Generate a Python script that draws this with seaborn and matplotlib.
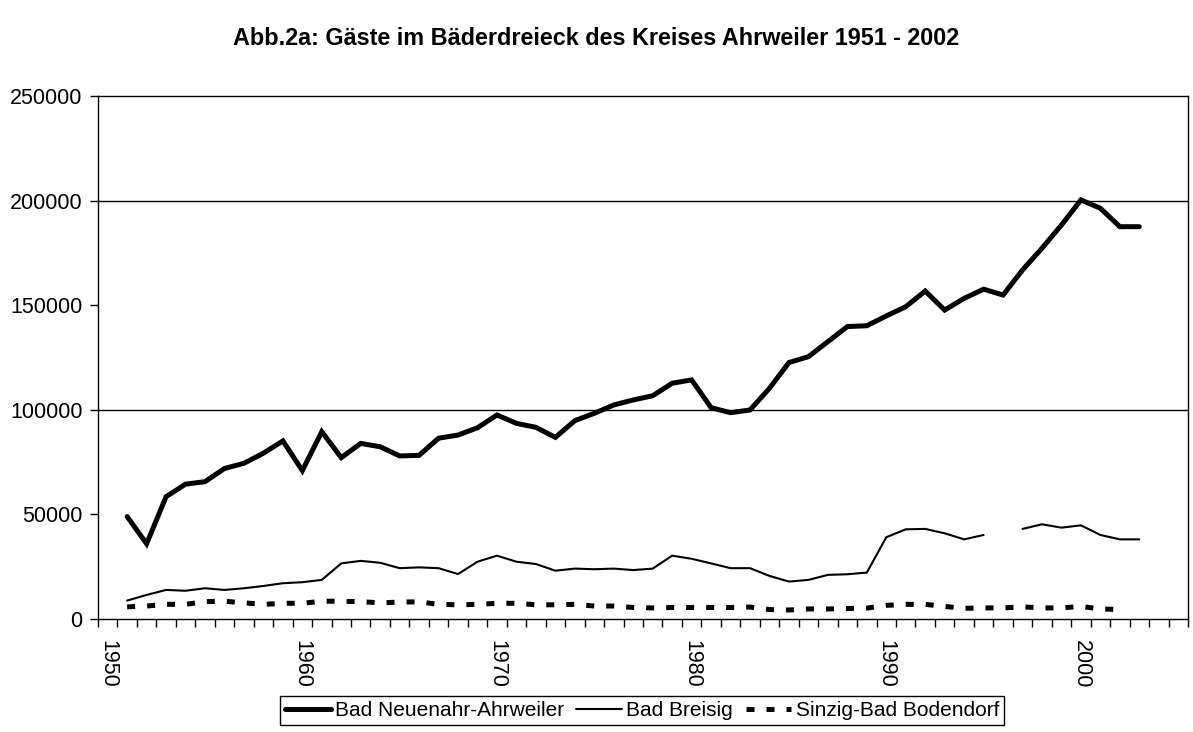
import numpy as np
import pandas as pd
import matplotlib
matplotlib.use("Agg")
import matplotlib.pyplot as plt
import seaborn as sns

# data (guests per year)
years = list(range(1951, 2004))
neuenahr = [49000, 36000, 58500, 64500, 65700, 72000, 74500, 79300, 85200, 71000,
            89600, 77200, 84000, 82400, 78000, 78300, 86500, 88000, 91500, 97600,
            93600, 91700, 86900, 94900, 98400, 102400, 104800, 106800, 112800, 114400,
            101100, 98700, 100000, 110400, 122700, 125500, 132700, 139900, 140300, 145000,
            149400, 156900, 147800, 153400, 157800, 155000, 167000, 177400, 188500, 200500,
            196500, 187700, 187700]
breisig = [8800, 11500, 13900, 13500, 14700, 13900, 14700, 15800, 17100, 17600,
           18700, 26600, 27800, 26900, 24300, 24700, 24300, 21500, 27400, 30300,
           27400, 26300, 23100, 24100, 23800, 24100, 23400, 24100, 30300, 28800,
           26600, 24300, 24300, 20600, 17900, 18700, 21100, 21400, 22200, 39100,
           42900, 43100, 41000, 38100, 40200, np.nan, 43100, 45300, 43700, 44800,
           40200, 38100, 38100]
sinzig = [5800, 6200, 7000, 7000, 8300, 8500, 7700, 7000, 7500, 7500,
          8500, 8500, 8300, 7700, 8100, 8200, 7000, 6800, 7000, 7500,
          7500, 6800, 6800, 7000, 6200, 6200, 5500, 5300, 5500, 5500,
          5500, 5500, 5700, 4500, 4300, 4800, 4800, 5000, 5200, 6500,
          7000, 7000, 6000, 5100, 5300, 5300, 5800, 5300, 5300, 6000,
          4800, 4500, np.nan]
names = ["Bad Neuenahr-Ahrweiler", "Bad Breisig", "Sinzig-Bad Bodendorf"]
label_years = [1950, 1960, 1970, 1980, 1990, 2000]
y_ticks = [0, 50000, 100000, 150000, 200000, 250000]

df = pd.DataFrame({"Jahr": years, names[0]: neuenahr, names[1]: breisig, names[2]: sinzig})
gap = df[names[1]].isna().idxmax()
breisig_a = df.loc[:gap - 1]
breisig_b = df.loc[gap + 1:]

sns.set_style("white")
plt.rcParams['font.family'] = ['Liberation Sans', 'DejaVu Sans']
plt.rcParams['text.color'] = 'black'
plt.rcParams['xtick.color'] = 'black'
plt.rcParams['ytick.color'] = 'black'

fig = plt.figure(figsize=(11.93, 7.32), dpi=100)
ax = fig.add_axes([0.0821, 0.1544, 0.9137, 0.7138])

sns.lineplot(data=df, x="Jahr", y=names[0], ax=ax, color="black", linewidth=3.6,
             label=names[0], solid_joinstyle="miter")
sns.lineplot(data=breisig_a, x="Jahr", y=names[1], ax=ax, color="black", linewidth=1.5,
             label=names[1])
sns.lineplot(data=breisig_b, x="Jahr", y=names[1], ax=ax, color="black", linewidth=1.5)
sns.lineplot(data=df, x="Jahr", y=names[2], ax=ax, color="black", linewidth=3.6,
             linestyle=(0, (1.6, 2.4)), dash_capstyle="butt", label=names[2])

ax.set_xlim(1949.5, 2005.5)
ax.set_ylim(0, 250000)
ax.set_xlabel("")
ax.set_ylabel("")

# category ticks sit between the years, labels every ten years
ax.set_xticks(label_years)
ax.set_xticklabels([str(y) for y in label_years], rotation=-90, fontsize=15.5)
ax.set_xticks(np.arange(1949.5, 2006, 1), minor=True)
ax.tick_params(axis="x", which="major", length=0, pad=15)
ax.tick_params(axis="x", which="minor", length=6, width=1, direction="out")
ax.set_yticks(y_ticks)
ax.set_yticklabels([str(v) for v in y_ticks], fontsize=15.5)
ax.tick_params(axis="y", length=6, width=1, direction="out", pad=5)
ax.xaxis.set_ticks_position("bottom")
ax.yaxis.set_ticks_position("left")

for v in [100000, 200000]:
    ax.axhline(v, color="black", linewidth=1, zorder=0)
for s in ax.spines.values():
    s.set_color("black")
    s.set_linewidth(1)

fig.text(0.5, 0.948, "Abb.2a: Gäste im Bäderdreieck des Kreises Ahrweiler 1951 - 2002",
         ha="center", va="center", fontsize=16.8, fontweight="bold")

handles, labels = ax.get_legend_handles_labels()
ax.legend(handles, labels, loc="center", bbox_to_anchor=(0.538, 0.029),
          bbox_transform=fig.transFigure, ncol=3, frameon=True, fancybox=False,
          edgecolor="black", framealpha=1, fontsize=15, handlelength=2.2,
          handletextpad=0.2, columnspacing=0.6, borderpad=0.25)
ax.get_legend().get_frame().set_linewidth(1)

fig.savefig("out.png", dpi=100)
